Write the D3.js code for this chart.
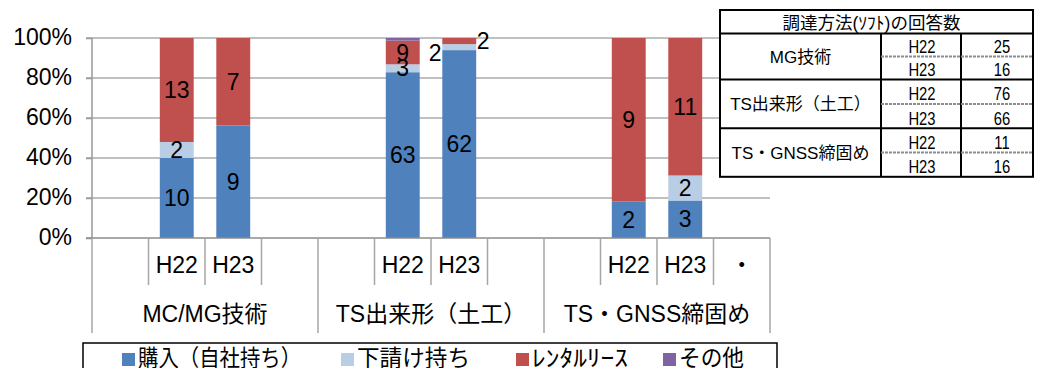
<!DOCTYPE html>
<html>
<head>
<meta charset="utf-8">
<script src="https://cdn.jsdelivr.net/npm/d3@7"></script>
<style>
  html, body { margin: 0; padding: 0; background: #fff; }
  svg { display: block; }
  text { font-family: "Liberation Sans", Arial, "Noto Sans CJK JP", sans-serif; fill: #000; }
</style>
</head>
<body>
<svg id="chart" width="1039" height="368"></svg>
<script>
// ---- data ----
const groups = ["MC/MG技術", "TS出来形（土工）", "TS・GNSS締固め"];
const slotLabels = ["", "H22", "H23", ""];         // four slots per group
const lastSlotLabel = "・";                        // label of the very last slot
const seriesNames = ["購入（自社持ち）", "下請け持ち", "ﾚﾝﾀﾙﾘｰｽ", "その他"];
const seriesColors = ["#4f81bd", "#b9cde5", "#c0504d", "#8064a2"];
// values per bar, in order: MC/MG H22, H23, TS H22, H23, GNSS H22, H23
const purchase    = [10, 9, 63, 62, 2, 3];
const subcontract = [2, 0, 3, 2, 0, 2];
const rental      = [13, 7, 9, 2, 9, 11];
const other       = [0, 0, 1, 0, 0, 0];
const yTicks = [0, 0.2, 0.4, 0.6, 0.8, 1.0];
const tableTitle = "調達方法(ｿﾌﾄ)の回答数";
const tableGroups = ["MG技術", "TS出来形（土工）", "TS・GNSS締固め"];
const tableCounts = [[25, 16], [76, 66], [11, 16]];

const svg = d3.select("#chart");
const CJK = "'Noto Sans CJK JP', sans-serif";

// ---- layout ----
const plotLeft = 92, plotRight = 770, plotTop = 38, plotBottom = 238;

const slots = [];
groups.forEach((g, gi) => slotLabels.forEach((s, si) => slots.push({ g: gi, s: si, key: gi + "-" + si })));

const x = d3.scaleBand().domain(slots.map(d => d.key)).range([plotLeft, plotRight]).padding(0);
const y = d3.scaleLinear().domain([0, 1]).range([plotBottom, plotTop]);

// bars: one per group/year
const bars = [];
groups.forEach((g, gi) => [1, 2].forEach((si, yi) => {
  const idx = gi * 2 + yi;
  const vals = [purchase[idx], subcontract[idx], rental[idx], other[idx]];
  const total = d3.sum(vals);
  let acc = 0;
  const segs = vals.map((v, k) => {
    const y0 = acc / total; acc += v;
    return { v, k, y0, y1: acc / total };
  });
  bars.push({ key: gi + "-" + si, idx, segs });
}));

// ---- gridlines ----
svg.append("g").selectAll("line").data(yTicks.filter(t => t > 0)).join("line")
  .attr("x1", plotLeft - 6).attr("x2", plotRight)
  .attr("y1", d => y(d)).attr("y2", d => y(d))
  .attr("stroke", "#ababab").attr("stroke-width", 1.5);

// y axis line
svg.append("line").attr("x1", plotLeft).attr("x2", plotLeft)
  .attr("y1", plotTop).attr("y2", plotBottom)
  .attr("stroke", "#999").attr("stroke-width", 1.5);

// y tick labels
const yAxis = d3.axisLeft(y).tickValues(yTicks).tickFormat(d3.format(".0%")).tickSize(6).tickPadding(14);
const yg = svg.append("g").attr("transform", `translate(${plotLeft},0)`).call(yAxis);
yg.select(".domain").remove();
yg.selectAll(".tick line").attr("stroke", "#999").attr("stroke-width", 1.5);
yg.selectAll(".tick text").attr("font-size", 23).attr("font-family", "Liberation Sans, Arial, sans-serif")
  .attr("fill", "#000").attr("dy", "0.3em");

// ---- bars ----
const bw = x.bandwidth() * 0.6;
const barG = svg.append("g");
bars.forEach(b => {
  const bx = x(b.key) + (x.bandwidth() - bw) / 2;
  barG.selectAll(null).data(b.segs.filter(s => s.v > 0)).join("rect")
    .attr("x", bx).attr("width", bw)
    .attr("y", s => y(s.y1)).attr("height", s => y(s.y0) - y(s.y1))
    .attr("fill", s => seriesColors[s.k]);
});

// ---- data labels ----
// a couple of labels sit beside the bar where the segment is too thin
const labelNudge = { "1-2:1": [-24, 6], "1-2:2": [24, 0] };
const labelG = svg.append("g");
bars.forEach(b => {
  const cx = x(b.key) + x.bandwidth() / 2;
  b.segs.filter(s => s.v > 0 && s.k < 3).forEach(s => {
    const n = labelNudge[b.key + ":" + s.k] || [0, 0];
    labelG.append("text")
      .attr("x", cx + n[0]).attr("y", (y(s.y0) + y(s.y1)) / 2 + n[1])
      .attr("dy", "0.35em").attr("text-anchor", "middle")
      .attr("font-size", 23).text(s.v);
  });
});

// ---- category axis ----
const axG = svg.append("g");
axG.append("line").attr("x1", plotLeft - 6).attr("x2", plotRight)
  .attr("y1", plotBottom).attr("y2", plotBottom)
  .attr("stroke", "#8c8c8c").attr("stroke-width", 1.5);
// inner slot dividers
slots.forEach(d => {
  if (d.s === 0) return;
  axG.append("line").attr("x1", x(d.key)).attr("x2", x(d.key))
    .attr("y1", plotBottom).attr("y2", 285).attr("stroke", "#a6a6a6").attr("stroke-width", 1.5);
});
// group dividers
d3.range(groups.length + 1).forEach(i => {
  const gx = plotLeft + i * 4 * x.bandwidth();
  axG.append("line").attr("x1", gx).attr("x2", gx)
    .attr("y1", plotBottom).attr("y2", 333).attr("stroke", "#a6a6a6").attr("stroke-width", 1.5);
});
// slot labels
slots.forEach((d, i) => {
  const lab = (i === slots.length - 1) ? lastSlotLabel : slotLabels[d.s];
  if (!lab) return;
  axG.append("text").attr("x", x(d.key) + x.bandwidth() / 2).attr("y", 273)
    .attr("text-anchor", "middle").attr("font-size", 23).text(lab);
});
// group labels
groups.forEach((g, gi) => {
  axG.append("text").attr("x", plotLeft + (gi * 4 + 2) * x.bandwidth()).attr("y", 322)
    .attr("text-anchor", "middle").attr("font-size", 23).text(g);
});

// ---- legend ----
const legG = svg.append("g");
legG.append("rect").attr("x", 83).attr("y", 343).attr("width", 694).attr("height", 40)
  .attr("fill", "#fff").attr("stroke", "#000").attr("stroke-width", 1.5);
const legX = [122, 341, 516, 663];
const legW = [163, 113, 96, 65];
seriesNames.forEach((n, i) => {
  legG.append("rect").attr("x", legX[i]).attr("y", 353).attr("width", 13).attr("height", 13)
    .attr("fill", seriesColors[i]);
  legG.append("text").attr("x", legX[i] + 16).attr("y", 366).attr("font-size", 23)
    .attr("font-family", CJK).attr("textLength", legW[i]).attr("lengthAdjust", "spacingAndGlyphs")
    .text(n);
});

// ---- answer count table ----
const tb = svg.append("g");
const tL = 720, tR = 1033, tTop = 10, tTitleB = 33.5;
const colA = 881, colB = 961;
const rowB = [79.5, 128.3, 176.8];
tb.append("rect").attr("x", tL).attr("y", tTop).attr("width", tR - tL).attr("height", rowB[2] - tTop)
  .attr("fill", "#fff").attr("stroke", "#000").attr("stroke-width", 2);
tb.append("line").attr("x1", tL).attr("x2", tR).attr("y1", tTitleB).attr("y2", tTitleB)
  .attr("stroke", "#000").attr("stroke-width", 2);
tb.append("text").attr("x", (tL + tR) / 2 - 5).attr("y", 29).attr("text-anchor", "middle")
  .attr("font-size", 17.5).attr("font-family", CJK).text(tableTitle);
tableGroups.forEach((g, i) => {
  const top = i === 0 ? tTitleB : rowB[i - 1];
  const bot = rowB[i];
  const mid = (top + bot) / 2;
  if (i < 2) tb.append("line").attr("x1", tL).attr("x2", tR).attr("y1", bot).attr("y2", bot)
    .attr("stroke", "#000").attr("stroke-width", 2);
  tb.append("line").attr("x1", colA).attr("x2", colA).attr("y1", top).attr("y2", bot)
    .attr("stroke", "#000").attr("stroke-width", 2);
  tb.append("line").attr("x1", colB).attr("x2", colB).attr("y1", top).attr("y2", bot)
    .attr("stroke", "#000").attr("stroke-width", 2);
  tb.append("line").attr("x1", colA).attr("x2", tR).attr("y1", mid).attr("y2", mid)
    .attr("stroke", "#8c8c8c").attr("stroke-width", 2).attr("stroke-dasharray", "3,1");
  tb.append("text").attr("x", (tL + colA) / 2).attr("y", mid + 6).attr("text-anchor", "middle")
    .attr("font-size", 17).attr("font-family", CJK).text(g);
  ["H22", "H23"].forEach((h, k) => {
    const by = k === 0 ? mid - 3.5 : bot - 3.5;
    tb.append("text").attr("transform", `translate(${(colA + colB) / 2 + 1},${by}) scale(0.8,1)`)
      .attr("text-anchor", "middle").attr("font-size", 18.5).text(h);
    tb.append("text").attr("transform", `translate(${(colB + tR) / 2 + 5},${by}) scale(0.8,1)`)
      .attr("text-anchor", "middle").attr("font-size", 18.5).text(tableCounts[i][k]);
  });
});
</script>
</body>
</html>
